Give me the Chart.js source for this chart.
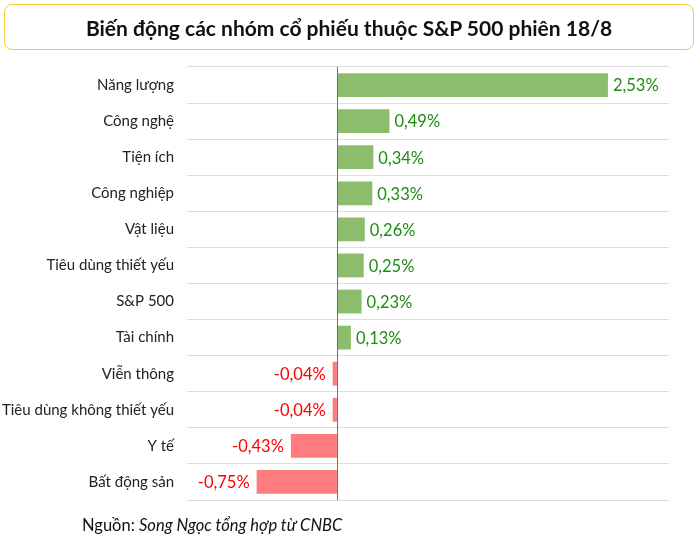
<!DOCTYPE html>
<html>
<head>
<meta charset="utf-8">
<script src="https://cdn.jsdelivr.net/npm/chart.js@4/dist/chart.umd.min.js"></script>
<style>
	html, body { margin: 0; padding: 0; background: #fff; }
	body { width: 700px; height: 546px; position: relative; overflow: hidden; font-family: Lato, sans-serif; }
	#title {
		position: absolute; left: 4px; top: 4px; width: 690px; height: 46px;
		border: 1px solid #f3c843; border-radius: 8px; box-sizing: border-box;
		display: flex; align-items: center; justify-content: center;
		font-size: 21px; font-weight: bold; color: #111;
	}
	#source { position: absolute; left: 82px; top: 515px; font-size: 16.5px; color: #111; }
	#chart { position: absolute; left: 0; top: 0; }
</style>
</head>
<body>
<canvas id="chart" width="700" height="546"></canvas>
<div id="title">Biến động các nhóm cổ phiếu thuộc S&amp;P 500 phiên 18/8</div>
<div id="source">Nguồn: <i>Song Ngọc tổng hợp từ CNBC</i></div>
<script>
/* data */
const categories = [
	'Năng lượng', 'Công nghệ', 'Tiện ích', 'Công nghiệp', 'Vật liệu',
	'Tiêu dùng thiết yếu', 'S&P 500', 'Tài chính', 'Viễn thông',
	'Tiêu dùng không thiết yếu', 'Y tế', 'Bất động sản'
];
const changes = [2.53, 0.49, 0.34, 0.33, 0.26, 0.25, 0.23, 0.13, -0.04, -0.04, -0.43, -0.75];

const greenBar = '#8cbd6c';
const redBar = '#ff7c7e';
const greenText = '#1c8c12';
const redText = '#ff0000';

const fmt = (v) => v.toFixed(2).replace('.', ',') + '%';

/* zero line + value labels */
const extras = {
	id: 'extras',
	afterDatasetsDraw(chart) {
		const { ctx, chartArea, scales } = chart;
		const x0 = scales.x.getPixelForValue(0);
		ctx.save();
		ctx.strokeStyle = '#6b6f78';
		ctx.lineWidth = 1;
		ctx.beginPath();
		ctx.moveTo(Math.round(x0) + 0.5, chartArea.top);
		ctx.lineTo(Math.round(x0) + 0.5, chartArea.bottom);
		ctx.stroke();

		ctx.font = '16.5px Lato';
		ctx.textBaseline = 'middle';
		chart.getDatasetMeta(0).data.forEach((bar, i) => {
			const v = changes[i];
			if (v >= 0) {
				ctx.fillStyle = greenText;
				ctx.textAlign = 'left';
				ctx.fillText(fmt(v), bar.x + 5, bar.y + 1);
			} else {
				ctx.fillStyle = redText;
				ctx.textAlign = 'right';
				ctx.fillText(fmt(v), bar.x - 7, bar.y + 1);
			}
		});
		ctx.restore();
	}
};

new Chart(document.getElementById('chart'), {
	type: 'bar',
	data: {
		labels: categories,
		datasets: [{
			data: changes,
			backgroundColor: changes.map(v => v >= 0 ? greenBar : redBar),
			borderWidth: 0,
			categoryPercentage: 0.66,
			barPercentage: 1,
		}]
	},
	options: {
		indexAxis: 'y',
		responsive: false,
		animation: false,
		layout: { padding: { top: 67, bottom: 46, left: 0, right: 31 } },
		plugins: {
			legend: { display: false },
			tooltip: { enabled: false },
		},
		scales: {
			x: {
				display: false,
				min: -1.4,
				max: 3.1,
			},
			y: {
				afterFit: (s) => { s.width = 187; },
				border: { display: false },
				grid: { color: '#dedede', drawTicks: false, offset: true },
				ticks: { color: '#222', padding: 13, font: { family: 'Lato', size: 15 } },
			}
		}
	},
	plugins: [extras]
});
</script>
</body>
</html>
